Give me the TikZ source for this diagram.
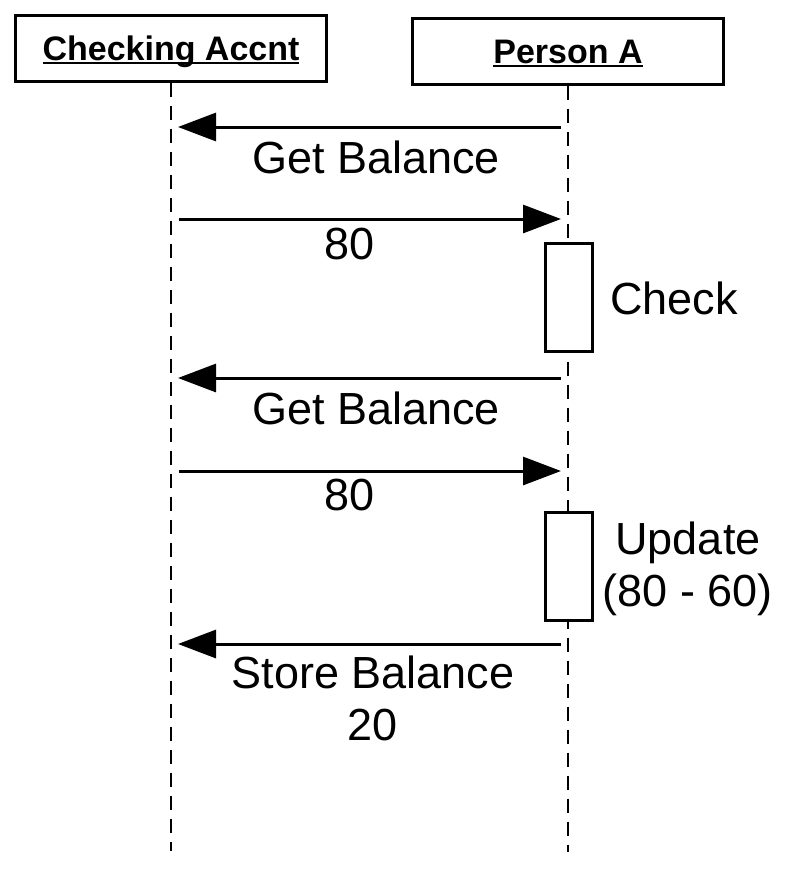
\documentclass[tikz,border=0pt]{standalone}
\usepackage{fontspec}
\setmainfont{Liberation Sans}
\usetikzlibrary{arrows.meta}
\newcommand{\headline}[1]{\setbox0\hbox{#1}\rlap{\rule[-3.5pt]{\wd0}{2pt}}\box0}
\tikzset{
 head/.style={draw,line width=3pt,minimum width=311pt,minimum height=66pt,inner sep=0pt,
  font=\fontsize{34}{40}\selectfont\bfseries,text height=24pt,text depth=0pt},
 life/.style={line width=2.8pt,dash pattern=on 14pt off 9pt},
 actbox/.style={draw,fill=white,line width=3pt,minimum width=47pt,minimum height=108pt,inner sep=0pt},
 msg/.style={font=\fontsize{45}{52}\selectfont,anchor=base,inner sep=0pt},
 call/.style={line width=3pt,-{Triangle[length=38pt,width=28pt]}}
}
\begin{document}
\begin{tikzpicture}[x=1pt,y=-1pt]
 \useasboundingbox (0,0) rectangle (790,876);
 \node[head] (accnt) at (171,48) {\headline{Checking Accnt}};
 \node[head] (person) at (568,51) {\headline{Person A}};
 \coordinate (accntEnd) at (171,851);
 \coordinate (personEnd) at (568,852);
 \draw[life] (accnt.south) -- (accntEnd);
 \draw[life] (person.south) -- (personEnd);
 \node[actbox] (check) at (569,297.5) {};
 \node[actbox] (update) at (569,566.5) {};
 \coordinate (p1) at (561,127); \coordinate (a1) at (178,127);
 \coordinate (a2) at (179,219); \coordinate (p2) at (561,219);
 \coordinate (p3) at (561,378); \coordinate (a3) at (178,378);
 \coordinate (a4) at (179,471); \coordinate (p4) at (561,471);
 \coordinate (p5) at (561,644); \coordinate (a5) at (178,644);
 \draw[call] (p1) -- (a1);
 \draw[call] (a2) -- (p2);
 \draw[call] (p3) -- (a3);
 \draw[call] (a4) -- (p4);
 \draw[call] (p5) -- (a5);
 \node[msg] (getBal1) at (376,173) {Get Balance};
 \node[msg] (eighty1) at (350,259) {80};
 \node[msg] (checkText) at (674,314) {Check};
 \node[msg] (getBal2) at (376,424) {Get Balance};
 \node[msg] (eighty2) at (350,510) {80};
 \node[msg] (updateText) at (688,554) {Update};
 \node[msg] (updateSum) at (688,606) {(80 - 60)};
 \node[msg] (storeBal) at (373,688) {Store Balance};
 \node[msg] (twenty) at (373,740) {20};
\end{tikzpicture}
\end{document}
